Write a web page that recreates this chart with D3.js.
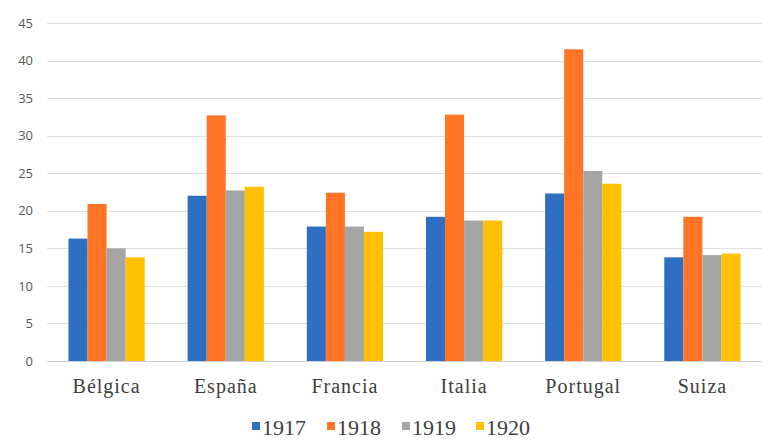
<!DOCTYPE html>
<html>
<head>
<meta charset="utf-8">
<script src="https://cdn.jsdelivr.net/npm/d3@7"></script>
<style>
  html, body { margin: 0; padding: 0; background: #fff; }
  svg { display: block; }
</style>
</head>
<body>
<svg id="chart" width="769" height="444"></svg>
<script>
const categories = ["Bélgica", "España", "Francia", "Italia", "Portugal", "Suiza"];
const seriesNames = ["1917", "1918", "1919", "1920"];
const v1917 = [16.3, 22.0, 17.9, 19.2, 22.3, 13.8];
const v1918 = [20.9, 32.7, 22.4, 32.8, 41.5, 19.2];
const v1919 = [15.0, 22.7, 17.9, 18.7, 25.3, 14.1];
const v1920 = [13.8, 23.2, 17.2, 18.7, 23.6, 14.3];
const yTicks = [0, 5, 10, 15, 20, 25, 30, 35, 40, 45];
const colors = ["#2E6FC2", "#FF7425", "#A5A5A5", "#FFC000"];

const seriesValues = [v1917, v1918, v1919, v1920];
const svg = d3.select("#chart");
const margin = { left: 47, right: 7, top: 23, bottom: 83 };
const W = 769, H = 444;

const x = d3.scaleBand().domain(categories).range([margin.left, W - margin.right]).paddingInner(0).paddingOuter(0);
const x1 = d3.scaleBand().domain(seriesNames).range([0, x.bandwidth() * 0.64]);
const groupOffset = (x.bandwidth() - x.bandwidth() * 0.64) / 2;
const y = d3.scaleLinear().domain([0, 45]).range([H - margin.bottom, margin.top]);

// gridlines
svg.append("g")
  .selectAll("line")
  .data(yTicks)
  .join("line")
  .attr("x1", margin.left)
  .attr("x2", W - margin.right)
  .attr("y1", d => Math.round(y(d)) + 0.5)
  .attr("y2", d => Math.round(y(d)) + 0.5)
  .attr("stroke", d => d === 0 ? "#d0d0d0" : "#e0e0e0")
  .attr("stroke-width", 1.2);

// y axis labels
const yAxis = d3.axisLeft(y).tickValues(yTicks).tickSize(0).tickPadding(0);
const yg = svg.append("g").attr("transform", `translate(${margin.left - 14},0)`).call(yAxis);
yg.select(".domain").remove();
yg.selectAll("text")
  .attr("fill", "#595959")
  .style("font-family", "'Open Sans', 'Liberation Sans', sans-serif")
  .style("font-size", "13px");

// bars
const groups = svg.append("g")
  .selectAll("g")
  .data(categories)
  .join("g")
  .attr("transform", d => `translate(${x(d) + groupOffset},0)`);

groups.selectAll("rect")
  .data((c, ci) => seriesNames.map((s, si) => ({ s, si, v: seriesValues[si][ci] })))
  .join("rect")
  .attr("x", d => x1(d.s))
  .attr("width", x1.bandwidth())
  .attr("y", d => y(d.v))
  .attr("height", d => y(0) - y(d.v))
  .attr("fill", d => colors[d.si]);

// x axis labels
const xAxis = d3.axisBottom(x).tickSize(0).tickPadding(0);
const xg = svg.append("g").attr("transform", `translate(0,${H - margin.bottom})`).call(xAxis);
xg.select(".domain").remove();
xg.selectAll("text")
  .attr("dy", null)
  .attr("y", 32)
  .attr("fill", "#404040")
  .style("font-family", "'Liberation Serif', 'Times New Roman', serif")
  .style("font-size", "20px")
  .style("letter-spacing", "1px");

// legend
const legendX = [252, 327, 402, 476];
const legend = svg.append("g")
  .selectAll("g")
  .data(seriesNames)
  .join("g")
  .attr("transform", (d, i) => `translate(${legendX[i]},435)`);
legend.append("rect")
  .attr("x", 0).attr("y", -13)
  .attr("width", 8).attr("height", 8)
  .attr("fill", (d, i) => colors[i]);
legend.append("text")
  .attr("x", 10)
  .attr("y", 0)
  .attr("fill", "#404040")
  .style("font-family", "'Liberation Serif', 'Times New Roman', serif")
  .style("font-size", "22px")
  .text(d => d);
</script>
</body>
</html>
